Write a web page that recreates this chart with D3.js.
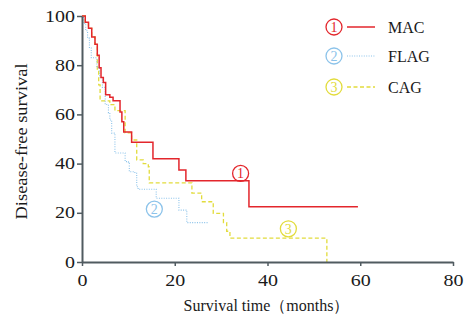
<!DOCTYPE html>
<html>
<head>
<meta charset="utf-8">
<script src="https://cdn.jsdelivr.net/npm/d3@7"></script>
<style>
  body { margin: 0; background: #fff; }
  svg { display: block; }
</style>
</head>
<body>
<div id="chart"></div>
<script>
// survival curves (months / % disease-free)
const macMonths = [0, 0.7, 1.4, 2.1, 2.8, 3.3, 3.7, 4.1, 4.6, 5.1, 6.0, 6.7, 8.2, 8.6, 9.0, 10.7, 15.3, 20.9, 22.4, 36.0, 59.5];
const macValues = [100, 97.5, 95, 91.5, 88.5, 84, 79, 75, 73, 68, 67, 65.5, 61, 57, 52.8, 48.7, 42, 37.4, 33, 22.5, 22.5];

const flagMonths = [0, 0.3, 0.8, 1.2, 1.6, 2.0, 3.2, 3.8, 4.4, 5.0, 5.7, 6.0, 6.4, 7.1, 9.3, 10.0, 10.2, 11.4, 11.8, 12.1, 16.0, 20.9, 22.6, 27.1];
const flagValues = [100, 97, 94, 91, 87, 83, 79, 75, 71, 64, 60.6, 57.7, 52.4, 44.3, 40.8, 40.1, 36.7, 36.1, 30.6, 29.6, 25.9, 21.1, 16, 16];

const cagMonths = [0, 0.7, 1.4, 2.1, 2.8, 3.3, 3.6, 3.9, 6.0, 7.1, 9.3, 10.7, 11.8, 13.2, 14.3, 14.5, 23.7, 25.8, 28.3, 30.5, 31.2, 31.9, 52.8];
const cagValues = [100, 97.5, 95, 91.5, 88.5, 78, 72, 65.5, 64, 61.5, 52.5, 49.6, 41.5, 40, 38.7, 32.2, 28, 24.5, 19.8, 16, 12.5, 9.7, 0];

const seriesNames = ["MAC", "FLAG", "CAG"];
const seriesMarks = ["1", "2", "3"];
const xTicks = [0, 20, 40, 60, 80];
const yTicks = [0, 20, 40, 60, 80, 100];

// where the circled numbers sit on the curves (months, %)
const markMonths = [34.2, 15.6, 44.5];
const markValues = [36, 21.5, 13.5];

const width = 471;
const height = 325;
const margin = {top: 16, right: 18, bottom: 63, left: 82};
const serif = "'Liberation Serif', 'DejaVu Serif', serif";
const axisColor = "#505b60";
const textColor = "#1a1a1a";
// the digits in the figure are set noticeably wider than plain Times
const digitStretch = 1.25;

const styles = [
  {color: "#e3262c", width: 1.5, dash: null},
  {color: "#8cc3ea", width: 1.1, dash: "1,1.4"},
  {color: "#e2dc3c", width: 1.3, dash: "4,2.5"}
];

const series = [
  {months: macMonths, values: macValues},
  {months: flagMonths, values: flagValues},
  {months: cagMonths, values: cagValues}
].map((s, i) => ({
  name: seriesNames[i],
  mark: seriesMarks[i],
  style: styles[i],
  points: s.months.map((m, j) => ({month: m, value: s.values[j]}))
}));

const svg = d3.select("#chart")
  .append("svg")
  .attr("width", width)
  .attr("height", height);

const x = d3.scaleLinear()
  .domain([0, 80])
  .range([margin.left, width - margin.right]);

const y = d3.scaleLinear()
  .domain([0, 100])
  .range([height - margin.bottom, margin.top]);

/**
 * Draws both axes with their labels.
 */
function renderAxis() {
  const xAxis = svg.append("g")
    .attr("transform", `translate(0,${y(0)})`)
    .call(d3.axisBottom(x).tickValues(xTicks).tickSize(4).tickSizeOuter(0).tickPadding(9));

  const yAxis = svg.append("g")
    .attr("transform", `translate(${x(0)},0)`)
    .call(d3.axisLeft(y).tickValues(yTicks).tickSize(5).tickSizeOuter(0).tickPadding(2));

  [xAxis, yAxis].forEach(function (g) {
    g.select(".domain").attr("stroke", axisColor).attr("stroke-width", 2);
    g.selectAll(".tick line").attr("stroke", axisColor).attr("stroke-width", 1.5);
    g.selectAll(".tick text")
      .attr("fill", textColor)
      .style("font-family", serif)
      .style("font-size", "16px");
  });

  // stretch the tick digits sideways, keeping their anchor point
  xAxis.selectAll(".tick text")
    .attr("transform", `scale(${digitStretch},1)`);
  yAxis.selectAll(".tick text")
    .attr("x", -7 / digitStretch)
    .attr("transform", `scale(${digitStretch},1)`);

  svg.append("text")
    .attr("x", (x(0) + x(80)) / 2 - 1)
    .attr("y", 311)
    .attr("text-anchor", "middle")
    .attr("fill", textColor)
    .style("font-family", serif)
    .style("font-size", "16px")
    .text("Survival time（months）");

  svg.append("text")
    .attr("transform", `translate(27,${y(49)}) rotate(-90)`)
    .attr("text-anchor", "middle")
    .attr("textLength", 156)
    .attr("lengthAdjust", "spacingAndGlyphs")
    .attr("fill", textColor)
    .style("font-family", serif)
    .style("font-size", "16px")
    .text("Disease-free survival");
}

/**
 * A small number in a circle, as used in the legend and on the curves.
 */
function circledMark(cx, cy, label, color) {
  const g = svg.append("g").attr("transform", `translate(${cx},${cy})`);
  g.append("circle")
    .attr("r", 8)
    .attr("fill", "none")
    .attr("stroke", color)
    .attr("stroke-width", 1.3);
  g.append("text")
    .attr("text-anchor", "middle")
    .attr("dy", "0.35em")
    .attr("fill", color)
    .style("font-family", serif)
    .style("font-size", "14px")
    .text(label);
}

/**
 * Draws the step curves.
 */
function renderCurves() {
  const line = d3.line()
    .x((d) => x(d.month))
    .y((d) => y(d.value))
    .curve(d3.curveStepAfter);

  // CAG first, then FLAG, then MAC on top
  [2, 1, 0].forEach(function (i) {
    const s = series[i];
    svg.append("path")
      .datum(s.points)
      .attr("fill", "none")
      .attr("stroke", s.style.color)
      .attr("stroke-width", s.style.width)
      .attr("stroke-dasharray", s.style.dash)
      .attr("d", line);
  });

  series.forEach(function (s, i) {
    circledMark(x(markMonths[i]), y(markValues[i]), s.mark, s.style.color);
  });
}

/**
 * Legend in the upper right corner.
 */
function renderLegend() {
  const rows = [27, 56, 87];
  series.forEach(function (s, i) {
    circledMark(334, rows[i], s.mark, s.style.color);
    svg.append("line")
      .attr("x1", 347)
      .attr("x2", 375)
      .attr("y1", rows[i])
      .attr("y2", rows[i])
      .attr("stroke", s.style.color)
      .attr("stroke-width", s.style.width)
      .attr("stroke-dasharray", s.style.dash);
    svg.append("text")
      .attr("x", 388)
      .attr("y", rows[i])
      .attr("dy", "0.35em")
      .attr("fill", textColor)
      .style("font-family", serif)
      .style("font-size", "16px")
      .text(s.name);
  });
}

renderCurves();
renderAxis();
renderLegend();
</script>
</body>
</html>
